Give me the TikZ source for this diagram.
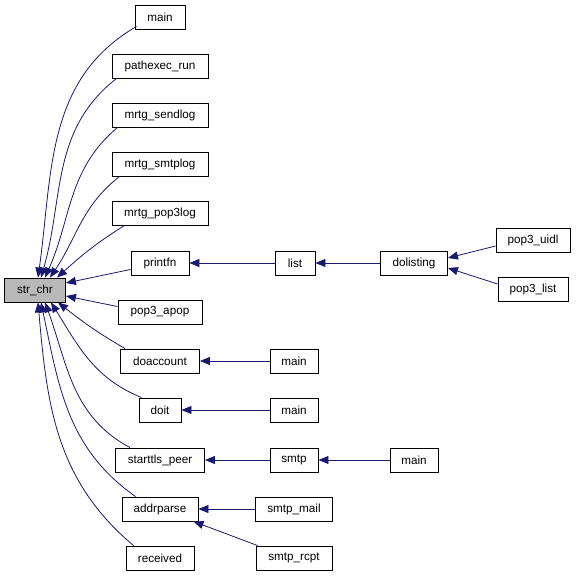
\documentclass[tikz,border=0pt]{standalone}
\usepackage{fontspec}
\setmainfont{Liberation Sans}
\usepackage{xcolor}
\usepackage{tikz}
\usetikzlibrary{arrows.meta}

\definecolor{edgeblue}{HTML}{191970}

\begin{document}
\begin{tikzpicture}[
  x=1pt, y=-1pt,
  fn/.style={rectangle, draw=black, line width=0.9pt, fill=white, minimum height=24pt, inner xsep=6pt, inner ysep=0pt, font=\fontsize{11.7}{14}\selectfont},
  focus/.style={fn, fill=gray!55},
  arr/.style={-{Triangle[length=10pt, width=8pt]}, edgeblue, line width=0.8pt},
]
  \useasboundingbox (0,0) rectangle (576,577);

  % Nodes
  \node[focus, minimum width=61pt] (strchr) at (35,290) {str\_chr};
  \node[fn, minimum width=50pt] (main) at (160,17) {main};
  \node[fn, minimum width=96pt] (pathexec) at (160,66) {pathexec\_run};
  \node[fn, minimum width=96pt] (sendlog) at (160,115) {mrtg\_sendlog};
  \node[fn, minimum width=96pt] (smtplog) at (160,164) {mrtg\_smtplog};
  \node[fn, minimum width=96pt] (popthreelog) at (160,213) {mrtg\_pop3log};
  \node[fn, minimum width=58pt] (printfn) at (160,263) {printfn};
  \node[fn, minimum width=84pt] (apop) at (160,312) {pop3\_apop};
  \node[fn, minimum width=79pt] (doaccount) at (160,361) {doaccount};
  \node[fn, minimum width=42pt] (doit) at (160,410) {doit};
  \node[fn, minimum width=89pt] (starttls) at (160,460) {starttls\_peer};
  \node[fn, minimum width=76pt] (addrparse) at (160,509) {addrparse};
  \node[fn, minimum width=68pt] (received) at (160,558) {received};

  \node[fn, minimum width=40pt] (list) at (295,263) {list};
  \node[fn, minimum width=67pt] (dolisting) at (414,263) {dolisting};
  \node[fn, minimum width=74pt] (uidl) at (533,240) {pop3\_uidl};
  \node[fn, minimum width=70pt] (poplist) at (533,289) {pop3\_list};

  \node[fn, minimum width=48pt] (mainacct) at (294,361) {main};
  \node[fn, minimum width=48pt] (maindoit) at (294,410) {main};
  \node[fn, minimum width=48pt] (smtp) at (294,460) {smtp};
  \node[fn, minimum width=48pt] (mainsmtp) at (414,460) {main};
  \node[fn, minimum width=77pt] (smtpmail) at (294,509) {smtp\_mail};
  \node[fn, minimum width=76pt] (smtprcpt) at (294,558) {smtp\_rcpt};

  % Callers of str_chr
  \draw[arr] ([xshift=2pt,yshift=3pt]main.south west) to[out=210, in=82] ([xshift=3pt]strchr.north);
  \draw[arr] ([xshift=5pt]pathexec.south west) to[out=218, in=74] ([xshift=6pt]strchr.north);
  \draw[arr] ([xshift=6pt]sendlog.south west) to[out=220, in=66] ([xshift=10pt]strchr.north);
  \draw[arr] ([xshift=8pt]smtplog.south west) to[out=218, in=56] ([xshift=15pt]strchr.north);
  \draw[arr] ([xshift=13pt]popthreelog.south west) to[out=212, in=42] ([xshift=22pt]strchr.north);
  \draw[arr] ([yshift=6pt]printfn.south west) -- ([yshift=7pt]strchr.east);
  \draw[arr] ([yshift=-7pt]apop.north west) -- ([yshift=-6pt]strchr.east);
  \draw[arr] ([xshift=5pt]doaccount.north west) to[out=150, in=-38] ([xshift=23pt]strchr.south);
  \draw[arr] ([xshift=3pt]doit.north west) to[out=158, in=-58] ([xshift=16pt]strchr.south);
  \draw[arr] ([xshift=15pt]starttls.north west) to[out=152, in=-70] ([xshift=10pt]strchr.south);
  \draw[arr] ([xshift=14pt]addrparse.north west) to[out=145, in=-78] ([xshift=6pt]strchr.south);
  \draw[arr] ([xshift=8pt]received.north west) to[out=140, in=-85] ([xshift=3pt]strchr.south);

  % Further callers
  \draw[arr] (list) -- (printfn);
  \draw[arr] (dolisting) -- (list);
  \draw[arr] ([yshift=-6pt]uidl.west) -- ([yshift=5pt]dolisting.east);
  \draw[arr] ([yshift=5pt]poplist.west) -- ([yshift=-5pt]dolisting.east);
  \draw[arr] (mainacct) -- (doaccount);
  \draw[arr] (maindoit) -- (doit);
  \draw[arr] (smtp) -- (starttls);
  \draw[arr] (mainsmtp) -- (smtp);
  \draw[arr] (smtpmail) -- (addrparse);
  \draw[arr] ([xshift=2pt]smtprcpt.north west) -- ([xshift=-5pt]addrparse.south east);
\end{tikzpicture}
\end{document}
